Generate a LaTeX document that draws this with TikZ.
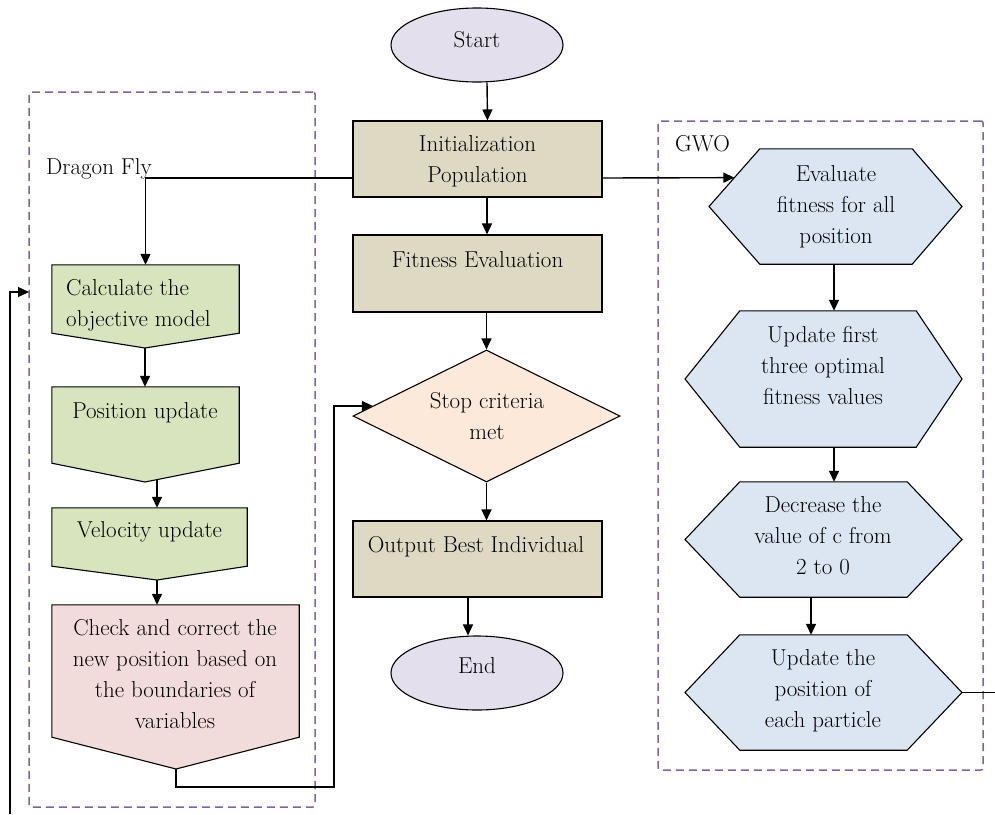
\documentclass[tikz,border=0pt]{standalone}
\usepackage{fontspec}
\usetikzlibrary{shapes.geometric,arrows.meta,calc}
\definecolor{lav}{HTML}{E4DFEC}
\definecolor{tanc}{HTML}{DDD9C3}
\definecolor{peach}{HTML}{FCE9DA}
\definecolor{grn}{HTML}{D7E4BD}
\definecolor{pnk}{HTML}{F2DCDB}
\definecolor{blu}{HTML}{DCE6F2}
\definecolor{purp}{HTML}{8064A2}
\begin{document}
\begin{tikzpicture}[x=1pt,y=-1pt,
  font=\fontsize{23}{31}\selectfont,
  txt/.style={inner sep=0pt, align=center},
  term/.style={ellipse, draw, line width=1.1pt, fill=lav, minimum width=172pt, minimum height=74pt, inner sep=0pt},
  proc/.style={draw, line width=1.1pt, fill=tanc, minimum width=249pt, inner sep=0pt},
  body/.style={draw=none, inner sep=0pt},
  shp/.style={draw, line width=1.1pt, line join=miter},
  arr/.style={-{Triangle[length=11pt,width=10pt]}, line width=1.4pt},
  ln/.style={line width=1.4pt},
  dbox/.style={draw=purp, dash pattern=on 8pt off 5pt, line width=1.5pt, rounded corners=2pt, inner sep=0pt}]
\useasboundingbox (0,0) rectangle (995,814);

% dashed groups
\node[dbox, minimum width=286pt, minimum height=715pt] (df) at (172,449.5) {};
\node[dbox, minimum width=325pt, minimum height=649pt] (gwo) at (820.5,445.5) {};
\node[txt, anchor=base west] (dfT) at (46,174) {Dragon Fly};
\node[txt, anchor=base west] (gwoT) at (675,151) {GWO};

% central column
\node[term] (start) at (477,45) {};
\node[txt, anchor=base] (startT) at (477,47) {Start};
\node[proc, minimum height=76pt] (init) at (477.5,159) {};
\node[txt] (initT) at (477.5,161) {Initialization\\Population};
\node[proc, minimum height=77pt] (fit) at (477.5,273.5) {};
\node[txt, anchor=base] (fitT) at (477.5,267) {Fitness Evaluation};
\node[diamond, draw, line width=1.1pt, fill=peach, minimum width=267pt, minimum height=132pt, inner sep=0pt, shape aspect=2] (stop) at (486.5,416) {};
\node[txt] (stopT) at (487,416) {Stop criteria\\met};
\node[proc, minimum height=76pt] (out) at (477.5,559) {};
\node[txt, anchor=base] (outT) at (476,552) {Output Best Individual};
\node[term] (end) at (477,673) {};
\node[txt, anchor=base] (endT) at (477,673) {End};

% dragonfly column
\node[body, minimum width=187pt, minimum height=68pt] (calc) at (145.5,299) {};
\coordinate (calcTip) at (145,348);
\filldraw[shp, fill=grn] (calc.north west) -- (calc.north east) -- (calc.south east) -- (calcTip) -- (calc.south west) -- cycle;
\node[txt, align=left, anchor=west] (calcT) at (66,305) {Calculate the\\objective model};

\node[body, minimum width=187pt, minimum height=76pt] (pos) at (145.5,425) {};
\coordinate (posTip) at (145,482);
\filldraw[shp, fill=grn] (pos.north west) -- (pos.north east) -- (pos.south east) -- (posTip) -- (pos.south west) -- cycle;
\node[txt, anchor=base] (posT) at (145,418) {Position update};

\node[body, minimum width=195pt, minimum height=58pt] (vel) at (149.5,537) {};
\coordinate (velTip) at (157,580);
\filldraw[shp, fill=grn] (vel.north west) -- (vel.north east) -- (vel.south east) -- (velTip) -- (vel.south west) -- cycle;
\node[txt, anchor=base] (velT) at (149.5,537) {Velocity update};

\node[body, minimum width=247pt, minimum height=132pt] (check) at (175.5,671) {};
\coordinate (checkTip) at (176,769);
\filldraw[shp, fill=pnk] (check.north west) -- (check.north east) -- (check.south east) -- (checkTip) -- (check.south west) -- cycle;
\node[txt] (checkT) at (175,674) {Check and correct the\\new position based on\\the boundaries of\\variables};

% GWO column
\node[body, minimum width=152pt, minimum height=115pt] (h1) at (836,206.5) {};
\coordinate (h1L) at (709,206.5); \coordinate (h1R) at (962,206.5);
\filldraw[shp, fill=blu] (h1.north west) -- (h1.north east) -- (h1R) -- (h1.south east) -- (h1.south west) -- (h1L) -- cycle;
\node[txt] (h1T) at (836,207) {Evaluate\\fitness for all\\position};

\node[body, minimum width=176pt, minimum height=136pt] (h2) at (828,379) {};
\coordinate (h2L) at (685,379); \coordinate (h2R) at (962,379);
\filldraw[shp, fill=blu] (h2.north west) -- (h2.north east) -- (h2R) -- (h2.south east) -- (h2.south west) -- (h2L) -- cycle;
\node[txt] (h2T) at (823,365.5) {Update first\\three optimal\\fitness values};

\node[body, minimum width=167pt, minimum height=115pt] (h3) at (823.5,539.5) {};
\coordinate (h3L) at (685,539.5); \coordinate (h3R) at (962,539.5);
\filldraw[shp, fill=blu] (h3.north west) -- (h3.north east) -- (h3R) -- (h3.south east) -- (h3.south west) -- (h3L) -- cycle;
\node[txt] (h3T) at (823,536) {Decrease the\\value of c from\\2 to 0};

\node[body, minimum width=167pt, minimum height=115pt] (h4) at (823.5,692.5) {};
\coordinate (h4L) at (685,692.5); \coordinate (h4R) at (962,692.5);
\filldraw[shp, fill=blu] (h4.north west) -- (h4.north east) -- (h4R) -- (h4.south east) -- (h4.south west) -- (h4L) -- cycle;
\node[txt] (h4T) at (823,691) {Update the\\position of\\each particle};

% helper coordinates
\coordinate (h1in) at ($(h1.north west)!0.5!(h1L)$);
\coordinate (stopIn) at ($(stop.west)!0.1515!(stop.north)$);
\coordinate (loopA) at (334,787);
\coordinate (posOut) at (157,479.5);
\coordinate (outR) at (995,692.5);
\coordinate (inB) at (10,814);
\coordinate (dfIn) at (29,292);

% connectors
\draw[arr] ([xshift=10pt]start.south) -- ([xshift=10pt]init.north);
\draw[arr] ([xshift=9.5pt]init.south) -- ([xshift=9.5pt]fit.north);
\draw[arr] ([xshift=9pt]fit.south) -- (stop.north);
\draw[arr] (stop.south) -- (stop.south |- out.north);
\draw[arr] ([xshift=-9.5pt]out.south) -- ([xshift=-9.5pt]out.south |- end.north);
\draw[arr] ([yshift=-19pt]init.west) -| (calc.north);
\draw[arr] ([yshift=-19pt]init.east) -- (h1in);
\draw[arr] (calcTip) -- (calcTip |- pos.north);
\draw[arr] (posOut) -- (posOut |- vel.north);
\draw[arr] (velTip) -- (velTip |- check.north);
\draw[arr] (checkTip) |- (loopA) |- (stopIn);
\draw[arr] ([xshift=-2pt]h1.south) -- ([xshift=-2pt]h1.south |- h2.north);
\draw[arr] ([xshift=6pt]h2.south) -- ([xshift=6pt]h2.south |- h3.north);
\draw[arr] ([xshift=-12.5pt]h3.south) -- ([xshift=-12.5pt]h3.south |- h4.north);
\draw[ln] (h4R) -- (outR);
\draw[arr] (inB) |- (dfIn);
\end{tikzpicture}
\end{document}
